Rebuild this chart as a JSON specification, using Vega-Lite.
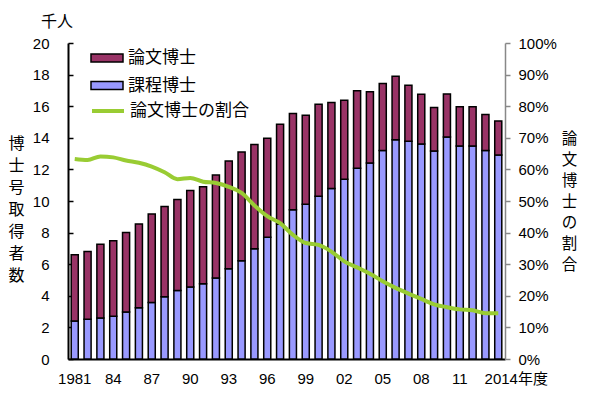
{
  "$schema": "https://vega.github.io/schema/vega-lite/v6.json",
  "width": 437,
  "height": 316,
  "autosize": {"type": "none"},
  "padding": {"left": 68, "top": 43, "right": 95, "bottom": 39},
  "background": "white",
  "title": {"text": "千人", "anchor": "start", "frame": "group", "dx": -27, "dy": 27, "offset": 17, "baseline": "bottom", "font": "Noto Sans CJK JP", "fontSize": 16, "fontWeight": "normal", "color": "black"},
  "config": {"view": {"stroke": null}},
  "datasets": {
    "bars": [
      {"year": 1981, "type": "課程博士", "value": 2.41}, {"year": 1981, "type": "論文博士", "value": 4.19},
      {"year": 1982, "type": "課程博士", "value": 2.52}, {"year": 1982, "type": "論文博士", "value": 4.29},
      {"year": 1983, "type": "課程博士", "value": 2.6}, {"year": 1983, "type": "論文博士", "value": 4.66},
      {"year": 1984, "type": "課程博士", "value": 2.71}, {"year": 1984, "type": "論文博士", "value": 4.78},
      {"year": 1985, "type": "課程博士", "value": 2.98}, {"year": 1985, "type": "論文博士", "value": 5.02},
      {"year": 1986, "type": "課程博士", "value": 3.24}, {"year": 1986, "type": "論文博士", "value": 5.31},
      {"year": 1987, "type": "課程博士", "value": 3.58}, {"year": 1987, "type": "論文博士", "value": 5.6},
      {"year": 1988, "type": "課程博士", "value": 3.94}, {"year": 1988, "type": "論文博士", "value": 5.71},
      {"year": 1989, "type": "課程博士", "value": 4.34}, {"year": 1989, "type": "論文博士", "value": 5.76},
      {"year": 1990, "type": "課程博士", "value": 4.55}, {"year": 1990, "type": "論文博士", "value": 6.12},
      {"year": 1991, "type": "課程博士", "value": 4.76}, {"year": 1991, "type": "論文博士", "value": 6.14},
      {"year": 1992, "type": "課程博士", "value": 5.12}, {"year": 1992, "type": "論文博士", "value": 6.52},
      {"year": 1993, "type": "課程博士", "value": 5.71}, {"year": 1993, "type": "論文博士", "value": 6.82},
      {"year": 1994, "type": "課程博士", "value": 6.22}, {"year": 1994, "type": "論文博士", "value": 6.88},
      {"year": 1995, "type": "課程博士", "value": 6.98}, {"year": 1995, "type": "論文博士", "value": 6.59},
      {"year": 1996, "type": "課程博士", "value": 7.7}, {"year": 1996, "type": "論文博士", "value": 6.27},
      {"year": 1997, "type": "課程博士", "value": 8.55}, {"year": 1997, "type": "論文博士", "value": 6.31},
      {"year": 1998, "type": "課程博士", "value": 9.44}, {"year": 1998, "type": "論文博士", "value": 6.1},
      {"year": 1999, "type": "課程博士", "value": 9.8}, {"year": 1999, "type": "論文博士", "value": 5.63},
      {"year": 2000, "type": "課程博士", "value": 10.3}, {"year": 2000, "type": "論文博士", "value": 5.83},
      {"year": 2001, "type": "課程博士", "value": 10.79}, {"year": 2001, "type": "論文博士", "value": 5.44},
      {"year": 2002, "type": "課程博士", "value": 11.37}, {"year": 2002, "type": "論文博士", "value": 5.01},
      {"year": 2003, "type": "課程博士", "value": 12.08}, {"year": 2003, "type": "論文博士", "value": 4.89},
      {"year": 2004, "type": "課程博士", "value": 12.4}, {"year": 2004, "type": "論文博士", "value": 4.51},
      {"year": 2005, "type": "課程博士", "value": 13.2}, {"year": 2005, "type": "論文博士", "value": 4.24},
      {"year": 2006, "type": "課程博士", "value": 13.88}, {"year": 2006, "type": "論文博士", "value": 4.02},
      {"year": 2007, "type": "課程博士", "value": 13.78}, {"year": 2007, "type": "論文博士", "value": 3.55},
      {"year": 2008, "type": "課程博士", "value": 13.61}, {"year": 2008, "type": "論文博士", "value": 3.15},
      {"year": 2009, "type": "課程博士", "value": 13.16}, {"year": 2009, "type": "論文博士", "value": 2.76},
      {"year": 2010, "type": "課程博士", "value": 14.05}, {"year": 2010, "type": "論文博士", "value": 2.73},
      {"year": 2011, "type": "課程博士", "value": 13.48}, {"year": 2011, "type": "論文博士", "value": 2.48},
      {"year": 2012, "type": "課程博士", "value": 13.48}, {"year": 2012, "type": "論文博士", "value": 2.48},
      {"year": 2013, "type": "課程博士", "value": 13.2}, {"year": 2013, "type": "論文博士", "value": 2.27},
      {"year": 2014, "type": "課程博士", "value": 12.91}, {"year": 2014, "type": "論文博士", "value": 2.16}
    ],
    "ratio": [
      {"year": 1981, "ratio": 0.633}, {"year": 1982, "ratio": 0.63}, {"year": 1983, "ratio": 0.641},
      {"year": 1984, "ratio": 0.638}, {"year": 1985, "ratio": 0.628}, {"year": 1986, "ratio": 0.621},
      {"year": 1987, "ratio": 0.609}, {"year": 1988, "ratio": 0.591}, {"year": 1989, "ratio": 0.569},
      {"year": 1990, "ratio": 0.573}, {"year": 1991, "ratio": 0.561}, {"year": 1992, "ratio": 0.557},
      {"year": 1993, "ratio": 0.545}, {"year": 1994, "ratio": 0.526}, {"year": 1995, "ratio": 0.486},
      {"year": 1996, "ratio": 0.452}, {"year": 1997, "ratio": 0.43}, {"year": 1998, "ratio": 0.393},
      {"year": 1999, "ratio": 0.367}, {"year": 2000, "ratio": 0.361}, {"year": 2001, "ratio": 0.34},
      {"year": 2002, "ratio": 0.309}, {"year": 2003, "ratio": 0.29}, {"year": 2004, "ratio": 0.27},
      {"year": 2005, "ratio": 0.246}, {"year": 2006, "ratio": 0.225}, {"year": 2007, "ratio": 0.207},
      {"year": 2008, "ratio": 0.19}, {"year": 2009, "ratio": 0.173}, {"year": 2010, "ratio": 0.164},
      {"year": 2011, "ratio": 0.157}, {"year": 2012, "ratio": 0.154}, {"year": 2013, "ratio": 0.145},
      {"year": 2014, "ratio": 0.145}
    ]
  },
  "encoding": {
    "x": {
      "field": "year", "type": "ordinal",
      "scale": {"paddingInner": 0.45, "paddingOuter": 0.25},
      "axis": {
        "title": null,
        "values": [1981, 1984, 1987, 1990, 1993, 1996, 1999, 2002, 2005, 2008, 2011, 2014],
        "labelExpr": "datum.value == 1981 ? '1981' : datum.value == 2014 ? '2014年度' : slice(toString(datum.value), 2)",
        "labelAngle": 0,
        "labelOverlap": false,
        "labelBound": false,
        "labelFlush": false,
        "ticks": false,
        "domainColor": "black",
        "domainWidth": 2,
        "labelFont": "Liberation Sans, Noto Sans CJK JP",
        "labelFontSize": 15,
        "labelColor": "black",
        "labelPadding": 12,
        "labelOffset": {"condition": {"test": "datum.value == 2014", "value": 18}, "value": 0}
      }
    }
  },
  "layer": [
    {
      "data": {"name": "bars"},
      "mark": {"type": "bar", "stroke": "black", "strokeWidth": 1.5},
      "encoding": {
        "y": {
          "field": "value", "type": "quantitative", "stack": "zero",
          "scale": {"domain": [0, 20], "nice": false},
          "axis": {
            "values": [0, 2, 4, 6, 8, 10, 12, 14, 16, 18, 20],
            "grid": false,
            "domainColor": "black",
            "domainWidth": 2,
            "tickColor": "black",
            "tickWidth": 1.5,
            "tickSize": -5,
            "labelFont": "Liberation Sans",
            "labelFontSize": 15,
            "labelColor": "black",
            "labelPadding": 24,
            "title": ["博", "士", "号", "取", "得", "者", "数"],
            "titleAngle": 0,
            "titleX": -52,
            "titleY": 92,
            "titleAlign": "center",
            "titleBaseline": "top",
            "titleLineHeight": 22,
            "titleFont": "Noto Sans CJK JP",
            "titleFontSize": 16,
            "titleFontWeight": "normal",
            "titleColor": "black"
          }
        },
        "fill": {
          "field": "type", "type": "nominal",
          "scale": {"domain": ["論文博士", "課程博士"], "range": ["#993366", "#9999ff"]},
          "legend": {
            "orient": "none",
            "legendX": 22,
            "legendY": 7,
            "title": null,
            "padding": 0,
            "labelFont": "Noto Sans CJK JP",
            "labelFontSize": 17,
            "labelColor": "black",
            "symbolType": "M-1,-0.25H1V0.25H-1Z",
            "symbolSize": 1024,
            "symbolStrokeColor": "black",
            "symbolStrokeWidth": 1.5,
            "symbolOpacity": 1,
            "clipHeight": 16,
            "rowPadding": 10.5,
            "labelOffset": 4
          }
        },
        "order": {"field": "type", "sort": "ascending"}
      }
    },
    {
      "data": {"name": "ratio"},
      "mark": {"type": "line", "strokeWidth": 4, "interpolate": "monotone"},
      "encoding": {
        "y": {
          "field": "ratio", "type": "quantitative",
          "scale": {"domain": [0, 1], "nice": false},
          "axis": {
            "orient": "right",
            "values": [0, 0.1, 0.2, 0.3, 0.4, 0.5, 0.6, 0.7, 0.8, 0.9, 1],
            "format": ".0%",
            "grid": false,
            "domainColor": "#888888",
            "domainWidth": 1.5,
            "tickColor": "#888888",
            "tickWidth": 1.5,
            "tickSize": 5,
            "labelFont": "Liberation Sans",
            "labelFontSize": 15,
            "labelColor": "black",
            "labelPadding": 8,
            "title": ["論", "文", "博", "士", "の", "割", "合"],
            "titleAngle": 0,
            "titleX": 64,
            "titleY": 88,
            "titleAlign": "center",
            "titleBaseline": "top",
            "titleLineHeight": 21,
            "titleFont": "Noto Sans CJK JP",
            "titleFontSize": 15.5,
            "titleFontWeight": "normal",
            "titleColor": "black"
          }
        },
        "stroke": {
          "datum": "論文博士の割合", "type": "nominal",
          "scale": {"domain": ["論文博士の割合"], "range": ["#99cc33"]},
          "legend": {
            "orient": "none",
            "legendX": 22,
            "legendY": 60,
            "title": null,
            "padding": 0,
            "labelFont": "Noto Sans CJK JP",
            "labelFontSize": 17,
            "labelColor": "black",
            "symbolType": "stroke",
            "symbolSize": 1024,
            "symbolStrokeWidth": 4,
            "symbolOpacity": 1,
            "clipHeight": 16,
            "labelOffset": 4
          }
        }
      }
    }
  ],
  "resolve": {"scale": {"y": "independent"}, "axis": {"y": "independent"}}
}
